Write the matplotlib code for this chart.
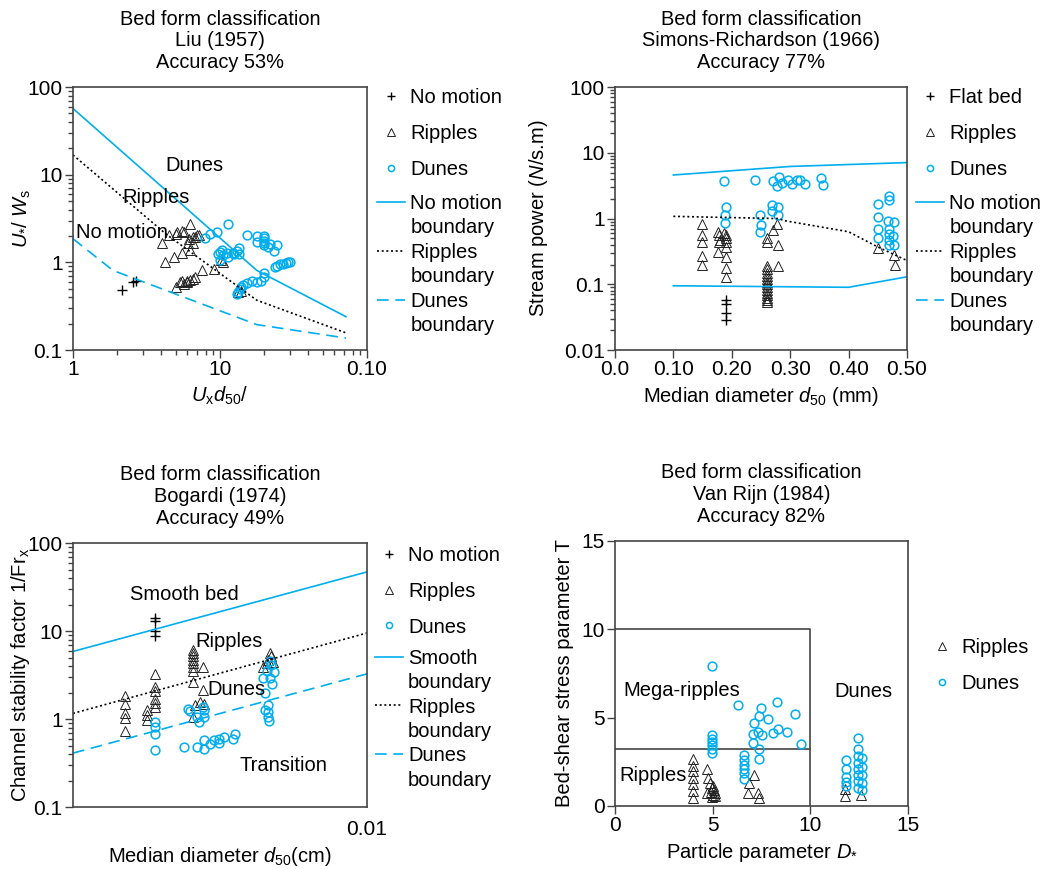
import matplotlib
matplotlib.use('Agg')
import matplotlib.pyplot as plt
from matplotlib.lines import Line2D

plt.rcParams['font.family'] = ['Liberation Sans', 'DejaVu Sans']
plt.rcParams['font.size'] = 14.5
plt.rcParams['mathtext.fontset'] = 'custom'
plt.rcParams['mathtext.rm'] = 'Liberation Sans'
plt.rcParams['mathtext.it'] = 'Liberation Sans:italic'

cyan = '#00AEEF'
edge = '#444444'

# ---- Liu (1957) ----
liu_nomo_x = [2.17, 2.57, 2.7]
liu_nomo_y = [0.49, 0.59, 0.62]
liu_rip_x = [6.24, 5.48, 5.12, 5.0, 4.52, 4.06, 6.17, 6.58, 7.0, 7.2, 6.1, 6.58, 5.7, 6.8,
             4.21, 4.85, 5.48, 6.24, 5.0, 5.33, 5.56, 5.94, 6.24, 6.58, 6.75, 5.7, 6.0,
             7.5, 9.1, 10.2, 10.5, 13.3, 14.0]
liu_rip_y = [2.71, 2.27, 2.21, 2.12, 2.03, 1.66, 1.86, 1.94, 2.03, 2.07, 1.66, 1.66, 2.25, 1.95,
             1.01, 1.15, 1.28, 1.39, 0.52, 0.6, 0.61, 0.62, 0.63, 0.65, 0.68, 0.57, 0.6,
             0.81, 0.85, 1.07, 1.01, 0.46, 0.47]
liu_dun_x = [11.4, 9.48, 8.6, 7.9, 15.2, 17.8, 19.9, 19.9, 19.9, 19.9, 19.9, 17.8, 21.9, 21.3,
             23.3, 24.3, 10.0, 9.7, 10.4, 11.2, 12.2, 13.0, 13.5, 10.5, 11.4, 12.4, 13.5, 10.0,
             23.7, 24.6, 25.7, 26.8, 28.0, 29.1, 30.0, 19.9, 19.9, 19.0, 17.8, 16.5, 15.3,
             14.4, 13.7, 13.3, 13.0, 14.0]
liu_dun_y = [2.76, 2.25, 2.12, 1.91, 2.08, 1.98, 2.01, 1.88, 1.77, 1.66, 1.56, 1.7, 1.63, 1.5,
             1.35, 1.56, 1.31, 1.25, 1.37, 1.28, 1.28, 1.35, 1.47, 1.2, 1.15, 1.23, 1.25, 1.07,
             0.88, 0.92, 0.95, 0.97, 0.98, 1.0, 1.01, 0.76, 0.68, 0.62, 0.6, 0.62, 0.58,
             0.55, 0.5, 0.46, 0.44, 0.52]
liu_bnd_nomo_x = [1, 17.8, 72]
liu_bnd_nomo_y = [57, 0.81, 0.24]
liu_bnd_rip_x = [1, 4.3, 17.8, 72]
liu_bnd_rip_y = [16.8, 2.1, 0.37, 0.157]
liu_bnd_dun_x = [1, 1.87, 17.8, 72]
liu_bnd_dun_y = [1.86, 0.81, 0.195, 0.137]

# ---- Simons-Richardson (1966) ----
sr_flat_x = [0.191, 0.191, 0.191, 0.191]
sr_flat_y = [0.057, 0.05, 0.036, 0.029]
sr_rip_x = [0.149, 0.149, 0.149, 0.149, 0.149,
            0.177, 0.179, 0.18, 0.178, 0.177,
            0.19, 0.19, 0.19, 0.19, 0.19, 0.19, 0.186, 0.19,
            0.26, 0.26, 0.26, 0.26, 0.26, 0.26, 0.26, 0.26, 0.26, 0.26, 0.26, 0.26, 0.26, 0.26,
            0.26, 0.26, 0.27, 0.278, 0.279, 0.279,
            0.451, 0.477, 0.479]
sr_rip_y = [0.84, 0.56, 0.44, 0.27, 0.2,
            0.63, 0.56, 0.47, 0.44, 0.31,
            0.56, 0.44, 0.37, 0.26, 0.18, 0.127, 0.6, 0.5,
            0.19, 0.17, 0.15, 0.135, 0.12, 0.11, 0.1, 0.09, 0.082, 0.075, 0.068, 0.062, 0.057, 0.053,
            0.5, 0.44, 0.66, 0.82, 0.39, 0.19,
            0.36, 0.28, 0.2]
sr_dun_x = [0.187, 0.239, 0.27, 0.281, 0.277, 0.286, 0.296, 0.303, 0.311, 0.317, 0.326, 0.352, 0.357,
            0.19, 0.189, 0.188, 0.248, 0.25, 0.249, 0.269, 0.269, 0.279, 0.279,
            0.451, 0.451, 0.451, 0.451, 0.469, 0.469, 0.467, 0.477, 0.47, 0.476, 0.469, 0.469,
            0.477, 0.47]
sr_dun_y = [3.73, 3.82, 3.69, 4.29, 3.13, 3.52, 3.82, 3.33, 3.82, 3.82, 3.33, 4.14, 3.21,
            1.5, 1.12, 0.86, 1.15, 0.79, 0.63, 1.63, 1.31, 1.5, 1.12,
            1.65, 1.06, 0.7, 0.51, 2.18, 1.9, 0.92, 0.89, 0.7, 0.54, 0.59, 0.47,
            0.39, 0.39]
sr_bnd_up_x = [0.1, 0.3, 0.5]
sr_bnd_up_y = [4.6, 6.2, 7.1]
sr_bnd_rip_x = [0.1, 0.28, 0.29, 0.4, 0.45, 0.5]
sr_bnd_rip_y = [1.08, 1.0, 0.93, 0.63, 0.37, 0.23]
sr_bnd_low_x = [0.1, 0.4, 0.5]
sr_bnd_low_y = [0.095, 0.09, 0.13]

# ---- Bogardi (1974) ----
bg_nomo_x = [0.0019, 0.0019, 0.0019, 0.0019]
bg_nomo_y = [14.1, 12.9, 9.9, 8.85]
bg_rip_x = [0.0015, 0.0015, 0.0015, 0.0015, 0.0015,
            0.00178, 0.00178, 0.00178,
            0.0019, 0.0019, 0.0019, 0.0019, 0.0019, 0.0019,
            0.00257, 0.00257, 0.00257, 0.00257, 0.00257, 0.00257, 0.00257, 0.00257,
            0.00277, 0.00277, 0.0026, 0.0027, 0.00279, 0.00257,
            0.00444, 0.00456, 0.00462, 0.00468, 0.0047, 0.0048]
bg_rip_y = [1.83, 1.47, 1.18, 1.02, 0.74,
            1.27, 1.11, 0.97,
            3.26, 2.34, 2.10, 1.67, 1.51, 1.38,
            6.12, 5.61, 5.14, 4.71, 4.32, 3.95, 3.53, 2.67,
            3.95, 2.14, 1.44, 1.55, 1.5, 1.06,
            3.95, 4.32, 4.71, 5.61, 5.14, 4.5]
bg_dun_x = [0.0019, 0.0019, 0.0019, 0.0019,
            0.00247, 0.0025, 0.00265, 0.00269, 0.00277, 0.00279, 0.00279,
            0.00238, 0.00265, 0.00279, 0.00279, 0.00292, 0.00302, 0.00315, 0.00315, 0.00326,
            0.00349, 0.00357,
            0.00468, 0.0047, 0.00456, 0.00481, 0.00444, 0.00468, 0.00474, 0.0045, 0.0045,
            0.00462, 0.00462, 0.00462, 0.00465]
bg_dun_y = [0.93, 0.82, 0.67, 0.44,
            1.29, 1.22, 1.06, 0.93, 1.38, 1.06, 1.27,
            0.48, 0.48, 0.58, 0.46, 0.52, 0.58, 0.60, 0.53, 0.63,
            0.59, 0.67,
            4.6, 4.1, 3.5, 3.4, 2.9, 2.9, 2.5, 1.96, 1.27,
            1.44, 1.2, 1.06, 0.96]
bg_bnd_x = [0.001, 0.01]
bg_bnd_smooth_y = [5.86, 47]
bg_bnd_rip_y = [1.16, 9.5]
bg_bnd_dun_y = [0.41, 3.26]

# ---- Van Rijn (1984) ----
vr_rip_x = [3.97, 3.97, 3.97, 3.97, 3.97, 3.97, 3.97,
            4.7, 4.75, 4.7, 4.85, 5.0, 4.95, 5.05, 4.9, 5.1, 5.0, 4.95, 5.1,
            6.84, 7.13, 6.79, 7.3, 7.38,
            11.8, 11.8, 12.6]
vr_rip_y = [2.64, 2.26, 1.98, 1.60, 1.22, 0.85, 0.47,
            2.07, 1.6, 0.75, 1.3, 1.15, 1.0, 0.9, 0.8, 0.75, 0.65, 0.5, 0.55,
            1.32, 1.73, 0.72, 0.72, 0.47,
            0.94, 0.57, 0.62]
vr_dun_x = [4.99, 4.99, 4.99, 4.99, 4.99, 4.99, 4.99,
            6.32, 7.5, 8.29, 9.23, 7.37, 7.85, 7.13, 7.06, 7.32, 7.52, 8.09, 8.34, 8.8,
            7.09, 9.52, 7.37, 7.37,
            6.62, 6.62, 6.62, 6.62, 6.62, 6.62,
            11.81, 11.81, 11.81, 11.81, 11.81,
            12.43, 12.43, 12.43, 12.43, 12.43, 12.43, 12.43, 12.43,
            12.65, 12.65, 12.65, 12.65, 12.65]
vr_dun_y = [7.95, 3.99, 3.8, 3.62, 3.43, 3.2, 2.98,
            5.69, 5.52, 5.89, 5.22, 5.08, 4.95, 4.67, 4.05, 4.18, 4.01, 4.14, 4.33, 4.2,
            3.58, 3.5, 3.2, 2.67,
            2.9, 2.58, 2.3, 2.07, 1.85, 1.51,
            2.6, 2.07, 1.66, 1.37, 1.13,
            3.86, 3.2, 2.82, 2.45, 2.11, 1.75, 1.41, 1.04,
            2.73, 2.22, 1.75, 1.32, 0.89]
vr_box_x = [0, 10, 10]
vr_box_y = [10, 10, 0]
vr_split_x = [0, 10]
vr_split_y = [3.2, 3.2]

fig = plt.figure(figsize=(10.53, 8.69), dpi=100)
ax1 = fig.add_axes([0.0693, 0.5972, 0.2792, 0.3026])
ax2 = fig.add_axes([0.584, 0.5972, 0.2773, 0.3026])
ax3 = fig.add_axes([0.0693, 0.0713, 0.2792, 0.3038])
ax4 = fig.add_axes([0.584, 0.0725, 0.2783, 0.305])

plus = dict(marker='+', ls='none', color='k', ms=7.5, mew=1.0)
tri = dict(marker='^', ls='none', mfc='none', mec='#222222', ms=7.5, mew=0.7)
circ = dict(marker='o', ls='none', mfc='none', mec=cyan, ms=6.3, mew=1.1)
solid = dict(color=cyan, lw=1.2, ls='-')
dotted = dict(color='k', lw=1.2, ls=(0, (1.2, 1.6)))
dashed = dict(color=cyan, lw=1.2, ls=(0, (7, 4)))

for ax in (ax1, ax2, ax3, ax4):
    for s in ax.spines.values():
        s.set_color(edge)
        s.set_linewidth(1.2)
    ax.tick_params(which='both', color=edge, width=1.0, labelsize=15, pad=1.5)
    ax.tick_params(which='major', length=6)
    ax.tick_params(which='minor', length=3.5)

title_kw = dict(fontsize=14.4, linespacing=1.17, pad=14)
leg_kw = dict(loc='upper left', frameon=False, handlelength=1.4, handletextpad=0.25,
              markerscale=0.7, borderaxespad=0, borderpad=0, fontsize=14.5)
blank = Line2D([], [], ls='none')


def add_legends(ax, mk_handles, mk_labels, ln_handles, ln_names, x, y_mk, y_ln):
    leg1 = ax.legend(mk_handles, mk_labels, bbox_to_anchor=(x, y_mk), labelspacing=0.84, **leg_kw)
    if ln_handles:
        ax.add_artist(leg1)
        hs, ls = [], []
        for h, n in zip(ln_handles, ln_names):
            hs += [h, blank]
            ls += [n, 'boundary']
        ax.legend(hs, ls, bbox_to_anchor=(x, y_ln), labelspacing=0.27, **leg_kw)


# panel 1
m1 = ax1.plot(liu_nomo_x, liu_nomo_y, **plus)
m2 = ax1.plot(liu_rip_x, liu_rip_y, **tri)
m3 = ax1.plot(liu_dun_x, liu_dun_y, **circ)
l1 = ax1.plot(liu_bnd_nomo_x, liu_bnd_nomo_y, **solid)
l2 = ax1.plot(liu_bnd_rip_x, liu_bnd_rip_y, **dotted)
l3 = ax1.plot(liu_bnd_dun_x, liu_bnd_dun_y, **dashed)
ax1.set_xscale('log')
ax1.set_yscale('log')
ax1.set_xlim(1, 100)
ax1.set_ylim(0.1, 100)
ax1.set_xticks([1, 10, 100], ['1', '10', '0.10'])
ax1.set_yticks([0.1, 1, 10, 100], ['0.1', '1', '10', '100'])
ax1.text(6.68, 12.7, 'Dunes', ha='center', va='center')
ax1.text(3.66, 5.55, 'Ripples', ha='center', va='center')
ax1.text(2.14, 2.18, 'No motion', ha='center', va='center')
ax1.set_xlabel(r'$U_\mathrm{x}d_{50}$/')
ax1.set_ylabel(r'$U_{*}$/ $W_\mathrm{s}$', labelpad=-4)
ax1.set_title('Bed form classification\nLiu (1957)\nAccuracy 53%', **title_kw)
add_legends(ax1, [m1[0], m2[0], m3[0]], ['No motion', 'Ripples', 'Dunes'],
            [l1[0], l2[0], l3[0]], ['No motion', 'Ripples', 'Dunes'], 1.034, 0.997, 0.594)

# panel 2
m1 = ax2.plot(sr_flat_x, sr_flat_y, **plus)
m2 = ax2.plot(sr_rip_x, sr_rip_y, **tri)
m3 = ax2.plot(sr_dun_x, sr_dun_y, **circ)
l1 = ax2.plot(sr_bnd_up_x, sr_bnd_up_y, **solid)
l2 = ax2.plot(sr_bnd_rip_x, sr_bnd_rip_y, **dotted)
ax2.plot(sr_bnd_low_x, sr_bnd_low_y, **solid)
l3 = Line2D([], [], **dashed)
ax2.set_yscale('log')
ax2.set_xlim(0, 0.5)
ax2.set_ylim(0.01, 100)
ax2.set_xticks([0, 0.1, 0.2, 0.3, 0.4, 0.5], ['0.0', '0.10', '0.20', '0.30', '0.40', '0.50'])
ax2.set_yticks([0.01, 0.1, 1, 10, 100], ['0.01', '0.1', '1', '10', '100'])
ax2.set_xlabel(r'Median diameter $d_{50}$ (mm)')
ax2.set_ylabel(r'Stream power ($N$/s.m)', labelpad=10)
ax2.set_title('Bed form classification\nSimons-Richardson (1966)\nAccuracy 77%', **title_kw)
add_legends(ax2, [m1[0], m2[0], m3[0]], ['Flat bed', 'Ripples', 'Dunes'],
            [l1[0], l2[0], l3], ['No motion', 'Ripples', 'Dunes'], 1.031, 0.997, 0.594)

# panel 3
m1 = ax3.plot(bg_nomo_x, bg_nomo_y, **plus)
m2 = ax3.plot(bg_rip_x, bg_rip_y, **tri)
m3 = ax3.plot(bg_dun_x, bg_dun_y, **circ)
l1 = ax3.plot(bg_bnd_x, bg_bnd_smooth_y, **solid)
l2 = ax3.plot(bg_bnd_x, bg_bnd_rip_y, **dotted)
l3 = ax3.plot(bg_bnd_x, bg_bnd_dun_y, **dashed)
ax3.set_xscale('log')
ax3.set_yscale('log')
ax3.set_xlim(0.001, 0.01)
ax3.set_ylim(0.1, 100)
ax3.set_xticks([0.01], ['0.01'])
ax3.xaxis.set_minor_locator(plt.NullLocator())
ax3.tick_params(axis='x', which='both', length=0, pad=9)
ax3.set_yticks([0.1, 1, 10, 100], ['0.1', '1', '10', '100'])
ax3.text(0.0024, 26, 'Smooth bed', ha='center', va='center')
ax3.text(0.0034, 7.6, 'Ripples', ha='center', va='center')
ax3.text(0.0036, 2.15, 'Dunes', ha='center', va='center')
ax3.text(0.0052, 0.30, 'Transition', ha='center', va='center')
ax3.set_xlabel(r'Median diameter $d_{50}$(cm)', labelpad=5)
ax3.set_ylabel(r'Channel stability factor 1/Fr$_\mathrm{x}$', labelpad=-3)
ax3.set_title('Bed form classification\nBogardi (1974)\nAccuracy 49%', **title_kw)
add_legends(ax3, [m1[0], m2[0], m3[0]], ['No motion', 'Ripples', 'Dunes'],
            [l1[0], l2[0], l3[0]], ['Smooth', 'Ripples', 'Dunes'], 1.027, 0.99, 0.60)

# panel 4
ax4.plot(vr_box_x, vr_box_y, color=edge, lw=1.2)
ax4.plot(vr_split_x, vr_split_y, color=edge, lw=1.2)
m2 = ax4.plot(vr_rip_x, vr_rip_y, **tri)
m3 = ax4.plot(vr_dun_x, vr_dun_y, **circ)
ax4.set_xlim(0, 15)
ax4.set_ylim(0, 15)
ax4.set_xticks([0, 5, 10, 15])
ax4.set_yticks([0, 5, 10, 15])
ax4.text(3.42, 6.55, 'Mega-ripples', ha='center', va='center')
ax4.text(1.97, 1.7, 'Ripples', ha='center', va='center')
ax4.text(12.7, 6.5, 'Dunes', ha='center', va='center')
ax4.set_xlabel(r'Particle parameter $D_{*}$')
ax4.set_ylabel('Bed-shear stress parameter T', labelpad=5)
ax4.set_title('Bed form classification\nVan Rijn (1984)\nAccuracy 82%', **title_kw)
add_legends(ax4, [m2[0], m3[0]], ['Ripples', 'Dunes'], [], [], 1.068, 0.635, 0)

fig.savefig('out.png', dpi=100)
